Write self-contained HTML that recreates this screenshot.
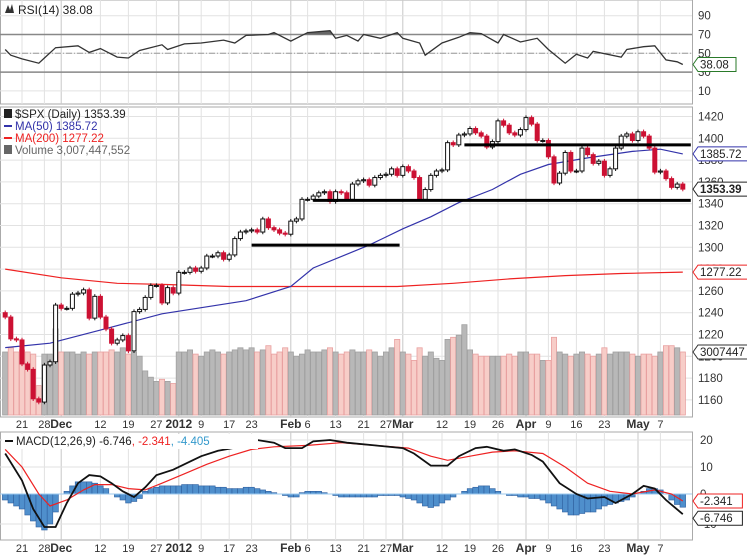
<!DOCTYPE html>
<html><head><meta charset="utf-8"><style>
html,body{margin:0;padding:0;background:#fff}
svg{display:block;font-family:"Liberation Sans",sans-serif}
</style></head><body>
<svg id="c" width="747" height="558" viewBox="0 0 747 558"></svg>
<script>
const closes=[1236,1216,1215,1193,1188,1161,1158,1192,1195,1247,1244,1244,1257,1258,1261,1235,1255,1236,1225,1212,1215,1219,1205,1241,1243,1254,1265,1265,1249,1263,1258,1277,1277,1281,1278,1281,1292,1292,1295,1289,1293,1308,1314,1315,1316,1314,1326,1318,1316,1313,1312,1324,1326,1344,1344,1347,1350,1351,1342,1351,1350,1344,1358,1361,1362,1357,1364,1366,1367,1372,1366,1374,1370,1364,1344,1353,1366,1370,1371,1396,1394,1403,1404,1409,1405,1402,1392,1397,1416,1412,1405,1403,1408,1419,1413,1398,1398,1383,1359,1368,1387,1370,1370,1391,1385,1377,1379,1366,1372,1391,1402,1404,1398,1406,1402,1391,1369,1370,1363,1355,1358,1353.39];
const volumes=[3.0,3.2,3.0,3.1,3.0,2.9,1.4,2.9,2.9,4.1,3.0,3.0,3.0,2.9,3.0,2.9,3.0,3.0,3.0,3.1,3.0,3.2,2.9,3.0,2.8,2.1,1.8,1.6,1.7,1.6,1.5,3.0,3.0,3.1,2.9,2.8,3.0,3.1,3.0,2.9,3.0,3.1,3.2,3.1,3.2,3.0,3.1,3.3,2.9,3.0,3.2,3.0,2.8,2.9,3.1,3.0,3.0,3.1,3.2,3.0,2.9,3.0,3.1,3.0,3.0,3.1,3.0,2.8,3.0,3.2,3.6,3.0,2.9,2.6,3.2,2.8,3.0,2.7,2.6,3.6,3.7,3.8,4.3,3.1,2.9,2.8,2.8,2.8,2.8,2.8,2.9,2.8,3.0,3.0,2.9,2.9,2.6,2.6,3.7,3.0,2.9,2.8,2.9,3.0,2.9,2.8,2.9,3.2,2.9,3.0,3.0,3.0,2.9,2.8,2.9,2.9,2.8,3.0,3.3,3.3,3.2,3.0];
const ma50Days=[0,8,17,28,43,51,55,65,71,76,81,87,92,97,104,112,117,121];
const ma50Vals=[1208,1212,1224,1239,1251,1264,1281,1302,1317,1328,1341,1353,1367,1376,1382,1388,1390,1385.72];
const ma200Days=[0,10,20,28,40,55,70,80,90,100,110,121];
const ma200Vals=[1280,1272,1267,1266,1264,1264,1264,1267,1271,1274,1276,1277.22];
const rsiDays=[0,1,3,6,7,9,13,15,17,20,22,24,28,29,32,35,39,41,43,47,48,51,54,58,59,61,63,64,67,70,71,74,75,78,81,83,85,88,89,92,95,97,100,102,104,105,110,111,114,116,118,120,121];
const rsiVals=[54,48,44,39.5,45,56,58,51,55,46,45,53,59,54,60,61,64,61,69,70,72,63,72,74,66,69,63,70,66,72,66,61,48,61,67,72,71,61,70,62,66,54,39.5,49,45,52,46,54,57,58,43,41,38.08];
const macdDays=[0,3,5,7,9,11,13,15,17,19,21,23,25,27,30,33,35,38,42,45,48,50,53,55,58,61,66,71,73,76,79,81,84,86,89,91,94,96,99,102,104,107,109,112,114,116,118,121];
const macdVals=[15,5,-5,-11,-11,-3,4,7,6.5,4,1,-1,2.5,7,9,12,14,16,17.5,20,19,17,17,19.5,20,19,18,17,15,10.5,10.5,14,17,17.5,16,16.5,14.5,12,4,0,-1.5,-1,-3,0,3,2,-2,-6.746];
const sigDays=[0,3,6,8,11,14,16,19,22,25,28,32,36,40,44,48,54,60,66,72,76,79,83,87,91,96,100,104,108,112,116,119,121];
const sigVals=[16.5,10,0,-4,-2,1.5,3.5,3.5,2,1.5,4,7.5,11,14,16.5,17.5,18,19,18,17,14,12.5,14,15.5,16,15,10,4,1,0,1.5,0,-2.341];
const histVals=[-2,-3,-4,-5,-7,-9,-11,-12,-10,-6,0,1,3,4.5,4.5,4.5,4,3,2,0,-1,-2,-3,-2.5,-1.5,1,2,2.5,3,3,3,3,3.5,3.5,3.5,3,3,3,2.5,2.5,2,2,2,2.5,2.5,2,1.5,1,0.5,0,-0.5,-1,-1,0.5,1,1,1,0.5,0,-0.5,-1,-1,-1,-1,-1,-1,-1,-0.5,-0.5,-0.5,-0.5,-1,-1.5,-2,-3,-4,-4.5,-4,-3,-2,-1,0,1,2,2.5,3,3,2,1,0,-0.5,-0.5,-1,-1,-1.5,-1.5,-2,-3,-4,-5,-6,-7,-7,-6.5,-6,-6,-5,-4,-3.5,-3,-2.5,-2,-1,0,1,2,2,1.5,0,-2,-3.5,-4.4];
const priceTicks=[1420,1400,1380,1360,1340,1320,1300,1280,1260,1240,1220,1200,1180,1160];
const rsiTicks=[90,70,50,30,10];
const macdTicks=[20,10,0,-10];
const trendLines=[[44,69,1302],[55,121,1343],[82,121,1394]];
const holidays=['2011-11-24','2011-12-26','2012-01-02','2012-01-16','2012-02-20','2012-04-06'];
const months=['Jan','Feb','Mar','Apr','May','Jun','Jul','Aug','Sep','Oct','Nov','Dec'];

const svg=document.getElementById('c');const NS='http://www.w3.org/2000/svg';
function el(t,a,p){const e=document.createElementNS(NS,t);for(const k in a)e.setAttribute(k,a[k]);(p||svg).appendChild(e);return e;}
const R=692;
const X=i=>5.2+i*5.6;
const YP=p=>138.3+(1400-p)*1.09;
const YR=r=>53.3-(r-50)*0.94;
const YM=m=>m>=0?494-m*2.7:494-m*3.0;
const YV=v=>415-v*21;

const dates=[];{let d=new Date(Date.UTC(2011,10,16));while(dates.length<closes.length){const w=d.getUTCDay();const s=d.toISOString().slice(0,10);if(w>0&&w<6&&!holidays.includes(s))dates.push(new Date(d));d=new Date(d.getTime()+864e5);}}
const monthLabels=[],weekLabels=[];
for(let i=1;i<dates.length;i++){
  const d=dates[i],p=dates[i-1];
  if(d.getUTCMonth()!==p.getUTCMonth())monthLabels.push([i,d.getUTCMonth()===0?String(d.getUTCFullYear()):months[d.getUTCMonth()],true]);
  if(d.getUTCDay()<p.getUTCDay()||(d-p)>3*864e5)weekLabels.push([i,String(d.getUTCDate()),false]);
}
const labels=monthLabels.concat(weekLabels.filter(w=>!monthLabels.some(m=>Math.abs(m[0]-w[0])<=2)));
function panel(y0,y1,name){
  const g=el('g',{});
  el('rect',{x:0.5,y:y0,width:R,height:y1-y0,fill:'#fff',stroke:'#aaa'},g);
  labels.forEach(l=>el('line',{x1:X(l[0]),x2:X(l[0]),y1:y0,y2:y1,stroke:l[2]?'#c8c8c8':'#e2e2e2'},g));
  return g;
}
function axisLabels(y){
  const g=el('g',{});
  labels.forEach(l=>{const t=el('text',{x:X(l[0]),y:y,'font-size':l[2]?12:11,'font-weight':l[2]?'bold':'normal','text-anchor':'middle',fill:'#333'},g);t.textContent=l[1];});
}
function tag(y,txt,stroke,bold,name){
  const g=el('g',{});
  const w=txt.length*6.4+6;
  el('polygon',{points:`${R+1},${y} ${R+6},${y-7} ${R+6+w},${y-7} ${R+6+w},${y+7} ${R+6},${y+7}`,fill:'#fff',stroke:stroke},g);
  const t=el('text',{x:R+8,y:y+4,'font-size':11.5,'font-weight':bold?'bold':'normal',fill:'#222'},g);t.textContent=txt;
}
function line(days,vals,yf,color,w,name){
  const p=days.map((d,k)=>X(d).toFixed(1)+','+yf(vals[k]).toFixed(1)).join(' ');
  const e=el('polyline',{points:p,fill:'none',stroke:color,'stroke-width':w});return p;
}

// RSI
panel(0,104,'rsi-panel');
rsiTicks.forEach(t=>{el('line',{x1:0,x2:R,y1:YR(t),y2:YR(t),stroke:(t===70)?'#888':'#e2e2e2','stroke-width':t===70?1.5:1});const tx=el('text',{x:698,y:YR(t)+4,'font-size':11.5,fill:'#333'});tx.textContent=t;});
el('line',{x1:0,x2:R,y1:YR(30),y2:YR(30),stroke:'#888','stroke-width':1.5});
el('line',{x1:0,x2:R,y1:YR(50),y2:YR(50),stroke:'#999','stroke-dasharray':'6,2,1,2'});
el('clipPath',{id:'ob'}).appendChild(document.createElementNS(NS,'rect'));
const cr=svg.querySelector('#ob rect');cr.setAttribute('x',0);cr.setAttribute('y',0);cr.setAttribute('width',R);cr.setAttribute('height',YR(70));
{const pts=rsiDays.map((d,k)=>X(d)+','+YR(rsiVals[k])).join(' ');el('polygon',{points:X(rsiDays[0])+','+YR(70)+' '+pts+' '+X(rsiDays[rsiDays.length-1])+','+YR(70),fill:'#666','clip-path':'url(#ob)'});}
line(rsiDays,rsiVals,YR,'#333',1.3,'rsi-line');
{const t=el('text',{x:18,y:14,'font-size':12,fill:'#222'});t.textContent='RSI(14) 38.08';el('path',{d:'M5 13 L8 5 L10 10 L12 4 L14 13 Z',fill:'#333'});}
tag(YR(38.08),'38.08','#2a7a2a',false,'rsi-value-tag');

// Price
panel(107,417,'price-panel');
priceTicks.forEach(t=>{el('line',{x1:0,x2:R,y1:YP(t),y2:YP(t),stroke:'#e2e2e2'});const tx=el('text',{x:698,y:YP(t)+4,'font-size':11.5,fill:'#333'});tx.textContent=t;});
volumes.forEach((v,i)=>{const up=i===0||closes[i]>=closes[i-1];const r=el('rect',{x:X(i)-2.6,y:YV(v),width:5.2,height:415-YV(v),fill:up?'#b8b8b8':'#f7cdc8',stroke:up?'#a0a0a0':'#e8a0a0','stroke-width':0.8});

});
line(ma200Days,ma200Vals,YP,'#ee2222',1.2,'ma200-line');
line(ma50Days,ma50Vals,YP,'#3333aa',1.2,'ma50-line');
closes.forEach((c,i)=>{const o=i===0?c+4:closes[i-1];const up=c>=o;const hi=Math.max(o,c)+2,lo=Math.min(o,c)-2;
const col=up?'#111':'#cc1133';
const g=el('g',{});
el('line',{x1:X(i),x2:X(i),y1:YP(hi),y2:YP(lo),stroke:col},g);
el('rect',{x:X(i)-2,y:YP(Math.max(o,c)),width:4,height:Math.max(1,Math.abs(YP(o)-YP(c))),fill:up?'#fff':'#cc1133',stroke:col,'stroke-width':1},g);});
trendLines.forEach(t=>{const e=el('line',{x1:X(t[0]),x2:Math.min(R,X(t[1])+8),y1:YP(t[2]),y2:YP(t[2]),stroke:'#000','stroke-width':3});});
[['$SPX (Daily) 1353.39','#222',118],['MA(50) 1385.72','#3333aa',130],['MA(200) 1277.22','#ee2222',142],['Volume 3,007,447,552','#666',154]].forEach((l,k)=>{
 const t=el('text',{x:15,y:l[2],'font-size':11.5,fill:l[1]});t.textContent=l[0];
 el('rect',{x:4,y:l[2]-(k===0||k===3?9:5),width:8,height:k===0||k===3?9:2,fill:k===0?'#222':l[1]});});
tag(YP(1385.72),'1385.72','#3333aa',false,'ma50-tag');
tag(YP(1353.39),'1353.39','#222',true,'price-tag');
tag(YP(1277.22),'1277.22','#ee2222',false,'ma200-tag');
tag(YV(3.0),'3007447','#333',false,'volume-tag');
axisLabels(428);

// MACD
panel(432,540,'macd-panel');
macdTicks.forEach(t=>{el('line',{x1:0,x2:R,y1:YM(t),y2:YM(t),stroke:'#e2e2e2'});const tx=el('text',{x:700,y:YM(t)+4,'font-size':11.5,fill:'#333'});tx.textContent=t;});
histVals.forEach((h,i)=>{const y0=YM(0),y1=YM(h);const r=el('rect',{x:X(i)-2.8,y:Math.min(y0,y1),width:5.6,height:Math.abs(y1-y0),fill:'#4f8fcc',stroke:'#2f5f9f','stroke-width':0.6});

});
el('line',{x1:0,x2:R,y1:YM(0),y2:YM(0),stroke:'#9cc8ee'});
line(sigDays,sigVals,YM,'#ee2222',1.2,'signal-line');
line(macdDays,macdVals,YM,'#111',1.8,'macd-line');
el('rect',{x:2,y:434,width:256,height:15,fill:'#fff'});
{const t=el('text',{x:16,y:445,'font-size':11.5});
 t.innerHTML='<tspan fill="#222">MACD(12,26,9) -6.746</tspan><tspan fill="#ee2222">, -2.341</tspan><tspan fill="#3399cc">, -4.405</tspan>';
 el('rect',{x:5,y:440,width:8,height:2,fill:'#111'});}
tag(YM(-2.341),'-2.341','#ee2222',false,'signal-tag');
tag(YM(-6.746)+4,'-6.746','#222',false,'macd-tag');
axisLabels(552);
</script>
</body></html>
